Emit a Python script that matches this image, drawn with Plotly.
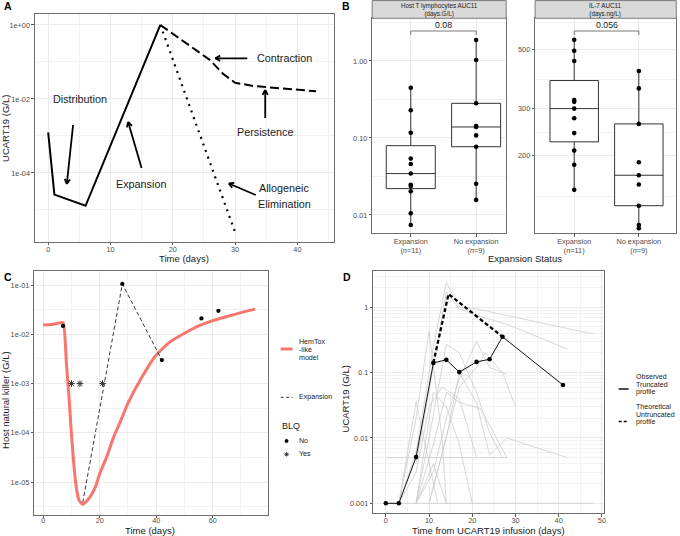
import numpy as np
import plotly.graph_objects as go

W, H = 680, 536
FONT = "Liberation Sans, Arial, sans-serif"


def px(x):
    return x / W


def py(y):
    return 1 - y / H


# ---------------- Panel A : schematic UCART19 kinetics ----------------
a_solid_time = [0, 1, 6, 18]
a_solid_conc = [1.26e-3, 2.6e-5, 1.3e-5, 1.0]
a_persist_time = [18, 22, 26, 28, 30, 33, 43]
a_persist_conc = [1.0, 0.33, 0.112, 0.049, 0.0275, 0.0224, 0.0162]
a_elim_time = [18, 30]
a_elim_conc = [1.0, 2.5e-6]

# ---------------- Panel B : AUC11 by expansion status ----------------
b_groups = [1, 2]
b_group_labels = ["Expansion<br>(<i>n</i>=11)", "No expansion<br>(<i>n</i>=9)"]
b_tlym_exp = [0.45, 0.229, 0.117, 0.054, 0.046, 0.0345, 0.0247, 0.0238, 0.0203, 0.0105, 0.0074]
b_tlym_noexp = [1.875, 1.03, 0.282, 0.143, 0.139, 0.108, 0.077, 0.0255, 0.0157]
b_il7_exp = [543, 494, 452, 323, 318, 300, 276, 243, 209, 185, 149]
b_il7_noexp = [415, 357, 263, 189, 169, 156, 130, 110, 107]
b_pvalues = ["0.08", "0.056"]
b_strip_titles = ["Host T lymphocytes AUC11<br>(days.G/L)", "IL-7 AUC11<br>(days.ng/L)"]

# ---------------- Panel C : host NK cells ----------------
c_model_time = [0, 3, 5, 7, 8.2, 9.1, 9.8, 10.6, 11.5, 12.6, 14, 15.5, 17, 18.5, 20,
                22.5, 25, 27.5, 30, 35, 40, 45, 50, 55, 60, 65, 70, 75]
c_model_conc = [0.0155, 0.0158, 0.0166, 0.0174, 0.00257, 5.5e-4, 1.35e-4, 3.3e-5, 9.5e-6,
                4.4e-6, 3.55e-6, 4.2e-6, 5.5e-6, 8.1e-6, 1.5e-5, 3.3e-5, 8.5e-5, 1.8e-4,
                4.0e-4, 1.38e-3, 3.8e-3, 7.1e-3, 0.0105, 0.0148, 0.019, 0.0229, 0.0275, 0.0324]
c_obs_time = [7, 28, 42, 56, 62]
c_obs_conc = [0.0148, 0.105, 0.003, 0.021, 0.030]
c_blq_time = [10, 13, 21]
c_blq_conc = [1e-3, 1e-3, 1e-3]
c_exp_time = [14, 28, 42]
c_exp_conc = [3.9e-6, 0.105, 0.003]
c_lloq = 1e-3

# ---------------- Panel D : UCART19 profiles ----------------
d_obs_time = [0, 3, 7, 11, 14, 17, 21, 24, 27, 41]
d_obs_conc = [0.001, 0.001, 0.0051, 0.141, 0.157, 0.102, 0.146, 0.16, 0.354, 0.0646]
d_theo_time = [11, 14.5, 27]
d_theo_conc = [0.141, 1.6, 0.354]
d_other_times = [
    [3, 7, 11, 14, 17, 21, 28, 48],
    [7, 11, 14, 17, 21, 28, 42],
    [7, 10, 14, 17, 21, 24, 27],
    [3, 7, 10, 13, 17, 21],
    [3, 7, 10, 13, 14],
    [3, 7, 12],
    [7, 11, 14],
    [7, 11, 14, 17, 21, 24, 28],
    [10, 14, 17, 21, 23, 27, 30],
    [10, 14, 17, 21, 24, 28, 42],
    [7, 11, 14, 17, 22, 28],
    [7, 11, 14, 17, 20],
    [0, 28],
    [0, 48],
]
d_other_concs = [
    [0.001, 0.006, 0.25, 2.4, 1.0, 0.95, 0.75, 0.39],
    [0.004, 0.12, 1.7, 0.95, 0.75, 0.55, 0.23],
    [0.001, 0.01, 0.27, 0.2, 0.05, 0.012, 0.005],
    [0.001, 0.003, 0.03, 0.06, 0.04, 0.005],
    [0.001, 0.02, 0.43, 0.01, 0.001],
    [0.001, 0.036, 0.001],
    [0.001, 0.004, 0.001],
    [0.001, 0.003, 0.02, 0.08, 0.3, 0.12, 0.095],
    [0.001, 0.01, 0.06, 0.12, 0.2, 0.1, 0.03],
    [0.001, 0.01, 0.1, 0.034, 0.0055, 0.01, 0.005],
    [0.001, 0.008, 0.05, 0.035, 0.028, 0.005],
    [0.001, 0.05, 0.03, 0.008, 0.001],
    [0.005, 0.005],
    [0.001, 0.001],
]

# ======================================================================
fig = go.Figure()

# ---- Panel A traces
fig.add_trace(go.Scatter(x=a_elim_time, y=a_elim_conc, mode="lines",
                         line=dict(color="black", width=2.2, dash="2px,5px"),
                         xaxis="x", yaxis="y"))
fig.add_trace(go.Scatter(x=a_persist_time, y=a_persist_conc, mode="lines",
                         line=dict(color="black", width=2, dash="9px,4px"),
                         xaxis="x", yaxis="y"))
fig.add_trace(go.Scatter(x=a_solid_time, y=a_solid_conc, mode="lines",
                         line=dict(color="black", width=2),
                         xaxis="x", yaxis="y"))


# ---- Panel B traces
def box_stats(vals):
    lv = np.log10(np.asarray(vals, dtype=float))
    q1, med, q3 = np.percentile(lv, [25, 50, 75])
    iqr = q3 - q1
    lo = lv[lv >= q1 - 1.5 * iqr].min()
    hi = lv[lv <= q3 + 1.5 * iqr].max()
    return [10 ** v for v in (q1, med, q3, lo, hi)]


for (vals_list, xa, ya) in [((b_tlym_exp, b_tlym_noexp), "x2", "y2"),
                            ((b_il7_exp, b_il7_noexp), "x3", "y3")]:
    for g, vals in zip(b_groups, vals_list):
        q1, med, q3, lo, hi = box_stats(vals)
        fig.add_trace(go.Box(x=[g], q1=[q1], median=[med], q3=[q3],
                             lowerfence=[lo], upperfence=[hi], width=0.75,
                             fillcolor="white", line=dict(color="#333333", width=1),
                             whiskerwidth=0, boxpoints=False,
                             xaxis=xa, yaxis=ya))
        fig.add_trace(go.Scatter(x=[g] * len(vals), y=vals, mode="markers",
                                 marker=dict(color="black", size=4.6),
                                 xaxis=xa, yaxis=ya))

# ---- Panel C traces
fig.add_trace(go.Scatter(x=c_model_time, y=c_model_conc, mode="lines",
                         line=dict(color="#F8766D", width=3, shape="spline", smoothing=0.5),
                         xaxis="x4", yaxis="y4"))
fig.add_trace(go.Scatter(x=c_exp_time, y=c_exp_conc, mode="lines",
                         line=dict(color="#222222", width=0.9, dash="4px,2.5px"),
                         xaxis="x4", yaxis="y4"))
fig.add_trace(go.Scatter(x=c_obs_time, y=c_obs_conc, mode="markers",
                         marker=dict(color="black", size=4.3),
                         xaxis="x4", yaxis="y4"))
fig.add_trace(go.Scatter(x=c_blq_time, y=c_blq_conc, mode="markers",
                         marker=dict(symbol="asterisk-open", size=5.5, color="#333333",
                                     line=dict(color="#333333", width=1)),
                         xaxis="x4", yaxis="y4"))

# ---- Panel D traces
for t, c in zip(d_other_times, d_other_concs):
    fig.add_trace(go.Scatter(x=t, y=c, mode="lines",
                             line=dict(color="#cdcdcd", width=0.8),
                             xaxis="x5", yaxis="y5"))
fig.add_trace(go.Scatter(x=d_theo_time, y=d_theo_conc, mode="lines",
                         line=dict(color="black", width=2.3, dash="4px,2.5px"),
                         xaxis="x5", yaxis="y5"))
fig.add_trace(go.Scatter(x=d_obs_time, y=d_obs_conc, mode="lines+markers",
                         line=dict(color="#111111", width=1),
                         marker=dict(color="black", size=4.6),
                         xaxis="x5", yaxis="y5"))

# ======================================================================
GRID = "#ebebeb"
BORDER = "#6e6e6e"


def ax(domain, rng, tickvals=None, ticktext=None, minor_vals=None, typ="linear", anchor=None,
       standoff=0):
    d = dict(domain=domain, range=rng, type=typ, anchor=anchor,
             showgrid=True, gridcolor=GRID, gridwidth=0.9, zeroline=False,
             showline=True, mirror=True, linecolor=BORDER, linewidth=0.9,
             ticks="outside", ticklen=2.5, tickwidth=0.8, tickcolor="#555555",
             ticklabelstandoff=standoff,
             tickfont=dict(size=7.3, color="#4d4d4d", family=FONT))
    if tickvals is not None:
        d["tickmode"] = "array"
        d["tickvals"] = tickvals
        d["ticktext"] = ticktext if ticktext is not None else [str(v) for v in tickvals]
    if minor_vals is not None:
        d["minor"] = dict(tickmode="array", tickvals=minor_vals, showgrid=True,
                          gridcolor="#f2f2f2", gridwidth=0.5, ticks="")
    return d


dec_minor_D = [k * 10.0 ** e for e in range(-3, 1) for k in range(2, 10)]

fig.update_layout(
    width=W, height=H, margin=dict(l=0, r=0, t=0, b=0),
    paper_bgcolor="white", plot_bgcolor="white", showlegend=False,
    font=dict(family=FONT, color="#1a1a1a"),
    xaxis=ax([px(35), px(335)], [-2.13, 45.87], [0, 10, 20, 30, 40], None,
             [5, 15, 25, 35, 45], anchor="y", standoff=-2),
    yaxis=ax([py(241.7), py(14.3)], [-5.857, 0.289], [1e-4, 1e-2, 1],
             ["1e-04", "1e-02", "1e+00"], [1e-5, 1e-3, 1e-1], typ="log", anchor="x"),
    xaxis2=ax([px(373.3), px(507.7)], [0.41, 2.46], b_groups, b_group_labels, anchor="y2",
              standoff=-2),
    yaxis2=ax([py(233.3), py(18.3)], [-2.238, 0.5545], [0.01, 0.1, 1.0],
              ["0.01", "0.10", "1.00"], [10 ** -1.5, 10 ** -0.5, 10 ** 0.5],
              typ="log", anchor="x2"),
    xaxis3=ax([px(536.7), px(678.3)], [0.395, 2.58], b_groups, b_group_labels, anchor="y3",
              standoff=-2),
    yaxis3=ax([py(233.3), py(18.3)], [2.0107, 2.815], [200, 300, 500],
              ["200", "300", "500"], [141, 245, 387, 630], typ="log", anchor="x3"),
    xaxis4=ax([px(34.3), px(268.3)], [-3.2, 79.4], [0, 20, 40, 60], None,
              [10, 30, 50, 70], anchor="y4", standoff=-4),
    yaxis4=ax([py(515), py(271)], [-5.665, -0.716], [1e-5, 1e-4, 1e-3, 1e-2, 1e-1],
              ["1e-05", "1e-04", "1e-03", "1e-02", "1e-01"],
              [10 ** -5.5, 10 ** -4.5, 10 ** -3.5, 10 ** -2.5, 10 ** -1.5],
              typ="log", anchor="x4"),
    xaxis5=ax([px(374.3), px(605.7)], [-2.93, 50.47], [0, 10, 20, 30, 40, 50], None,
              [5, 15, 25, 35, 45], anchor="y5", standoff=-3),
    yaxis5=ax([py(513.3), py(271)], [-3.153, 0.556], [0.001, 0.01, 0.1, 1],
              ["0.001", "0.01", "0.1", "1"], dec_minor_D, typ="log", anchor="x5"),
)

shapes = []
annotations = []


def text(x, y, s, size=7.3, color="#1a1a1a", xanchor="center", angle=0, bold=False):
    annotations.append(dict(x=px(x), y=py(y), xref="paper", yref="paper", text=("<b>%s</b>" % s) if bold else s,
                            showarrow=False, xanchor=xanchor, yanchor="middle", textangle=angle,
                            font=dict(size=size, color=color, family=FONT)))


def seg(x0, y0, x1, y1, color="black", width=1.0, dash="solid"):
    shapes.append(dict(type="line", xref="paper", yref="paper",
                       x0=px(x0), y0=py(y0), x1=px(x1), y1=py(y1),
                       line=dict(color=color, width=width, dash=dash)))


def arrow(x0, y0, x1, y1, width=1.8, head=5.5):
    seg(x0, y0, x1, y1, width=width)
    ang = np.arctan2(y0 - y1, x0 - x1)
    for da in (0.5, -0.5):
        seg(x1, y1, x1 + head * np.cos(ang + da), y1 + head * np.sin(ang + da), width=width)


# panel letters
text(2, 6, "A", size=10.5, bold=True, xanchor="left", color="black")
text(341, 6, "B", size=10.5, bold=True, xanchor="left", color="black")
text(2, 277, "C", size=10.5, bold=True, xanchor="left", color="black")
text(342, 277, "D", size=10.5, bold=True, xanchor="left", color="black")

# Panel A texts and arrows
text(185, 258, "Time (days)", size=9.5)
text(5, 128, "UCART19 (G/L)", size=9.5, angle=-90)
text(285, 58.5, "Contraction", size=10.8)
arrow(248, 58.3, 216, 58.3)
text(80, 99, "Distribution", size=10.8)
arrow(73.3, 125, 67, 184)
text(141, 183.5, "Expansion", size=10.8)
arrow(142, 168, 128.5, 122)
text(266, 132.5, "Persistence", size=10.8)
arrow(266, 118, 266, 90)
text(285, 188, "Allogeneic", size=10.8)
text(285, 203.5, "Elimination", size=10.8)
arrow(256.5, 195, 229.5, 183.5)

# Panel B strips, brackets, titles
for (x0, x1), title in zip([(373.3, 507.7), (536.7, 678.3)], b_strip_titles):
    shapes.append(dict(type="rect", xref="paper", yref="paper",
                       x0=px(x0), x1=px(x1), y0=py(18.3), y1=py(0.6),
                       fillcolor="#d9d9d9", line=dict(color=BORDER, width=0.9)))
    annotations.append(dict(x=px((x0 + x1) / 2), y=py(9.6), xref="paper", yref="paper",
                            text=title, showarrow=False, xanchor="center", yanchor="middle",
                            font=dict(size=6.3, color="#1a1a1a", family=FONT)))
for xa, pv in zip(["x2", "x3"], b_pvalues):
    shapes.append(dict(type="path", xref=xa, yref="paper",
                       path="M %g,%g L %g,%g L %g,%g L %g,%g" % (
                           b_groups[0], py(35), b_groups[0], py(31),
                           b_groups[1], py(31), b_groups[1], py(35)),
                       line=dict(color="#555555", width=0.8)))
    annotations.append(dict(x=(b_groups[0] + b_groups[1]) / 2, y=py(25.2), xref=xa, yref="paper",
                            text=pv, showarrow=False, xanchor="center", yanchor="middle",
                            font=dict(size=8.8, color="#1a1a1a", family=FONT)))
text(526.7, 258.3, "Expansion Status", size=9.5)

# Panel C: LLOQ line, titles, legend
shapes.append(dict(type="line", xref="x4 domain", yref="y4", x0=0, x1=1,
                   y0=np.log10(c_lloq), y1=np.log10(c_lloq),
                   line=dict(color="#555555", width=0.9, dash="1px,2px")))
text(150.5, 530, "Time (days)", size=9.5)
text(5, 400, "Host natural killer (G/L)", size=9.5, angle=-90)
seg(281.5, 349, 293.5, 349, color="#F8766D", width=3)
text(298, 341.5, "HemTox", size=7.1, xanchor="left")
text(298, 349.5, "-like", size=7.1, xanchor="left")
text(298, 357.5, "model", size=7.1, xanchor="left")
seg(281.5, 397.3, 293.5, 397.3, color="#222222", width=0.9, dash="3px,2.5px")
text(298, 397.3, "Expansion", size=7.1, xanchor="left")
text(280.5, 425.5, "BLQ", size=9, xanchor="left")
shapes.append(dict(type="circle", xref="paper", yref="paper",
                   x0=px(285.7), x1=px(289.1), y0=py(442.7), y1=py(439.3),
                   fillcolor="black", line=dict(color="black", width=0.5)))
text(298, 441, "No", size=7.1, xanchor="left")
for ang in (0, 45, 90, 135):
    r = 2.3
    a = np.radians(ang)
    seg(287.4 - r * np.cos(a), 454.3 - r * np.sin(a), 287.4 + r * np.cos(a), 454.3 + r * np.sin(a),
        color="#333333", width=0.9)
text(298, 454.3, "Yes", size=7.1, xanchor="left")

# Panel D titles and legend
text(490, 530, "Time from UCART19 infusion (days)", size=9.5)
text(346.5, 399, "UCART19 (G/L)", size=9.5, angle=-90)
seg(620.5, 389, 630.5, 389, color="black", width=1.4)
text(636, 377.3, "Observed", size=7.1, xanchor="left")
text(636, 384.8, "Truncated", size=7.1, xanchor="left")
text(636, 392.3, "profile", size=7.1, xanchor="left")
seg(620.5, 421.5, 630.5, 421.5, color="black", width=1.6, dash="3px,2px")
text(636, 407.3, "Theoretical", size=7.1, xanchor="left")
text(636, 414.5, "Untruncated", size=7.1, xanchor="left")
text(636, 422, "profile", size=7.1, xanchor="left")

fig.update_layout(shapes=shapes, annotations=annotations)
fig.write_html("out.html", config={"displayModeBar": False},
               post_script="document.body.style.margin='0px';document.body.style.overflow='hidden';")
